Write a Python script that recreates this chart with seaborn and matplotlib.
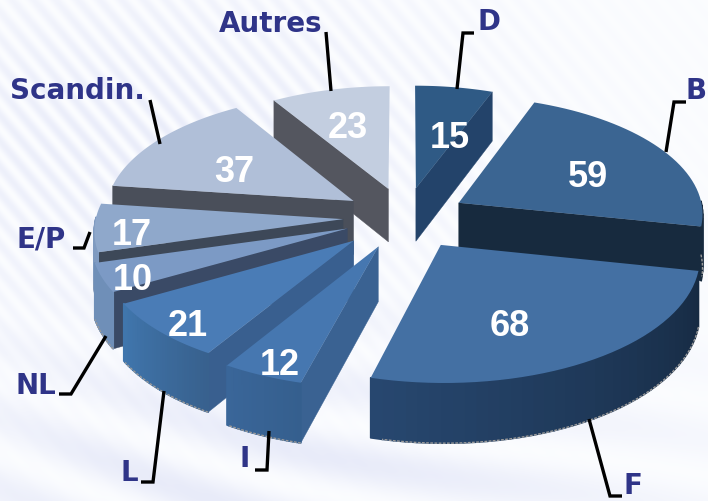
import numpy as np
import matplotlib
matplotlib.use("Agg")
import matplotlib.pyplot as plt
from matplotlib.patches import Polygon
import seaborn as sns

# clockwise from the top
labels = ["D", "B", "F", "I", "L", "NL", "E/P", "Scandin.", "Autres"]
values = [15, 59, 68, 12, 21, 10, 17, 37, 23]

top_colors = ["#2f5a85", "#3b6592", "#4470a3", "#4677b0", "#4a7cb6",
              "#7c9ac5", "#8fa8cb", "#b0bfd8", "#c3cee0"]
side_colors = ["#23436a", "#172a3e", "#172a3e", "#3a6292", "#395f8f",
               "#3a4a66", "#3d4858", "#4a4f5a", "#54565f"]
rim_left = ["#23436a", "#172a3e", "#27476f", "#3a6699", "#4076ad",
            "#6f8fb8", "#7f9ac0", "#4a4f5a", "#54565f"]
rim_right = ["#23436a", "#172a3e", "#162a42", "#355f8e", "#38618e",
             "#6f8fb8", "#7f9ac0", "#4a4f5a", "#54565f"]

# geometry of the exploded pie, in pixels
cx, cy = 405, 218
tilt = 0.48
depth = 3000
thick = 54
radius = [240, 245, 253, 258, 247, 253, 247, 249, 240]
explode = [62, 62, 67, 66, 70, 62, 62, 62, 62]
label_frac = [0.58, 0.63, 0.6, 0.86, 0.86, 0.88, 0.85, 0.6, 0.68]
label_turn = [5, 0, 7, 0, 0, 0, 0, 0, 0]  # degrees clockwise from the wedge middle

# leader lines and outer names
leaders = [[(457, 90), (463, 34), (474, 34)],
           [(666, 153), (674, 103), (686, 103)],
           [(589, 420), (610, 497), (622, 497)],
           [(269, 432), (267, 471), (255, 471)],
           [(164, 392), (153, 483), (141, 483)],
           [(106, 337), (71, 395), (59, 395)],
           [(90, 233), (84, 249), (73, 249)],
           [(150, 101), (160, 145)],
           [(326, 33), (331, 92)]]
name_pos = [(489, 22), (696, 91), (633, 486), (245, 459), (129, 473),
            (36, 386), (41, 240), (77, 91), (271, 24)]


def project(u, v, drop=0.0):
    w = 1 / (1 + v / depth)
    return cx + u * w, cy - tilt * v * w + drop * w


def wedge_point(theta, r, i):
    mid = mid_angles[i]
    u = r * np.sin(theta) + explode[i] * np.sin(mid)
    v = r * np.cos(theta) + explode[i] * np.cos(mid)
    return u, v


sns.set_theme(style="white")
plt.rcParams["font.family"] = ["Liberation Sans", "DejaVu Sans"]

fig = plt.figure(figsize=(7.08, 5.02), dpi=100)
ax = fig.add_axes([0, 0, 1, 1])
ax.set_xlim(0, 708)
ax.set_ylim(502, 0)
ax.axis("off")

# pale streaked backdrop
yy, xx = np.mgrid[0:502, 0:708]
stripes = np.sin((xx - yy * 0.85) / 7.0) ** 2 * np.exp(-((xx - 150) / 330.0) ** 2)
stripes = stripes * np.exp(-((yy - 140) / 190.0) ** 2)
waves = np.sin((yy - 0.28 * xx - 28 * np.sin(xx / 170.0)) / 24.0) ** 2
waves = waves * np.clip((yy - 260) / 200.0, 0, 1) * np.exp(-((xx - 260) / 420.0) ** 2)
shade = np.clip(0.4 * stripes + 0.45 * waves, 0, 1)[..., None]
bg = np.array([0.985, 0.99, 1.0]) * (1 - shade) + np.array([0.82, 0.84, 0.95]) * shade
ax.imshow(bg, extent=(0, 708, 502, 0), aspect="auto", zorder=0)

angles = np.deg2rad(np.cumsum([0] + values) / sum(values) * 360)
mid_angles = (angles[:-1] + angles[1:]) / 2

z = 2
for i in np.argsort(-np.cos(mid_angles)):
    a0, a1 = angles[i], angles[i + 1]
    r = radius[i]
    arc = np.linspace(a0, a1, 40)

    apex_u, apex_v = wedge_point(0, 0, i)
    top_apex = project(apex_u, apex_v)
    low_apex = project(apex_u, apex_v, thick)

    # radial walls facing the viewer
    for edge, normal_v in ((a0, np.sin(a0)), (a1, -np.sin(a1))):
        if normal_v < 0:
            u, v = wedge_point(edge, r, i)
            quad = [top_apex, project(u, v), project(u, v, thick), low_apex]
            ax.add_patch(Polygon(quad, closed=True, fc=side_colors[i], ec=side_colors[i],
                                 lw=0.3, zorder=z))
            z += 1

    # outer rim, shaded piece by piece
    front = arc[np.cos(arc) < 0.02]
    if len(front) > 1:
        shades = sns.blend_palette([rim_right[i], rim_left[i]], len(front) - 1)
        low_x, low_y = [], []
        for j in range(len(front) - 1):
            u0, v0 = wedge_point(front[j], r, i)
            u1, v1 = wedge_point(front[j + 1], r, i)
            quad = [project(u0, v0), project(u1, v1),
                    project(u1, v1, thick), project(u0, v0, thick)]
            ax.add_patch(Polygon(quad, closed=True, fc=shades[j], ec=shades[j],
                                 lw=1.2, joinstyle="round", zorder=z))
            low_x.append(quad[3][0])
            low_y.append(quad[3][1])
            z += 0.01
        z += 1
        ax.plot(low_x, low_y, color="#9a9a9a", lw=1.0, ls=(0, (2, 1)), zorder=z)
        z += 1

    # top face
    u, v = wedge_point(arc, r, i)
    px, py = project(u, v)
    outline = [top_apex] + list(zip(px, py))
    ax.add_patch(Polygon(outline, closed=True, fc=top_colors[i], ec="none", zorder=z))
    z += 1

    # value on the face
    lu, lv = wedge_point(mid_angles[i] + np.deg2rad(label_turn[i]), r * label_frac[i], i)
    lx, ly = project(lu, lv)
    ax.text(lx, ly + 8, str(values[i]), color="white", fontsize=26, fontweight="bold",
            ha="center", va="center", zorder=200)

# leader lines with the names
for name, line, pos in zip(labels, leaders, name_pos):
    xs, ys = zip(*line)
    ax.plot(xs, ys, color="black", lw=2.4, solid_joinstyle="miter",
            solid_capstyle="butt", zorder=100)
    ax.text(pos[0], pos[1], name, color="#2f3488", fontsize=20, fontweight="bold",
            family=["DejaVu Sans"], ha="center", va="center", zorder=101)

fig.savefig("out.png", dpi=100)
